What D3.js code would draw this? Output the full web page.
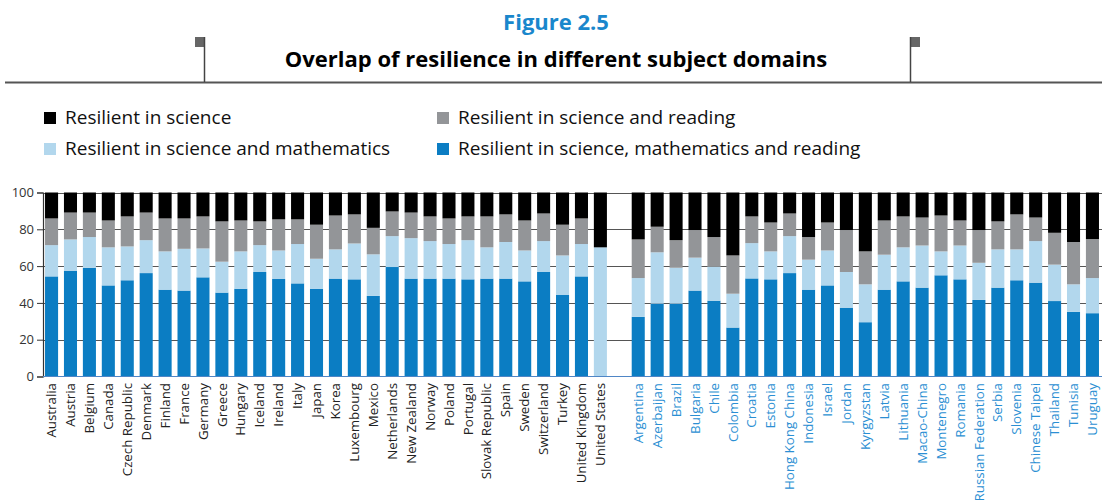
<!DOCTYPE html>
<html>
<head>
<meta charset="utf-8">
<title>Figure 2.5</title>
<script src="https://cdn.jsdelivr.net/npm/d3@7"></script>
<style>
body { margin: 0; background: #fff; }
text { font-family: "Open Sans", "Noto Sans", sans-serif; }
</style>
</head>
<body>
<svg width="1102" height="500"></svg>
<script>

// OECD countries, then partner economies
var oecd = ["Australia", "Austria", "Belgium", "Canada", "Czech Republic", "Denmark", "Finland", "France",
  "Germany", "Greece", "Hungary", "Iceland", "Ireland", "Italy", "Japan", "Korea", "Luxembourg", "Mexico",
  "Netherlands", "New Zealand", "Norway", "Poland", "Portugal", "Slovak Republic", "Spain", "Sweden",
  "Switzerland", "Turkey", "United Kingdom", "United States"];
var partners = ["Argentina", "Azerbaijan", "Brazil", "Bulgaria", "Chile", "Colombia", "Croatia", "Estonia",
  "Hong Kong China", "Indonesia", "Israel", "Jordan", "Kyrgyzstan", "Latvia", "Lithuania", "Macao-China",
  "Montenegro", "Romania", "Russian Federation", "Serbia", "Slovenia", "Chinese Taipei", "Thailand",
  "Tunisia", "Uruguay"];

// shares (%) of resilient students, oecd first then partners
var sciMathRead = [54.4, 57.5, 59.1, 49.5, 52.3, 56.2, 47.2, 46.7, 53.9, 45.6, 47.7, 56.8, 53.0, 50.6, 47.7, 53.2,
  52.8, 43.8, 59.5, 53.2, 53.2, 53.2, 52.8, 53.2, 53.2, 51.7, 56.8, 44.3, 54.4, 0,
  32.4, 39.6, 39.6, 46.7, 41.2, 26.6, 53.3, 52.8, 56.2, 47.2, 49.5, 37.4, 29.5, 47.2, 51.7, 48.3,
  55.0, 52.8, 41.6, 48.3, 52.3, 51.0, 41.0, 35.1, 34.4];
var sciMath = [17.0, 17.0, 16.7, 20.7, 18.4, 17.9, 20.8, 22.7, 15.7, 16.8, 20.3, 14.6, 15.5, 21.4, 16.3, 15.9,
  19.5, 22.6, 16.8, 22.0, 20.4, 18.8, 21.3, 17.0, 19.9, 16.8, 16.8, 21.5, 17.6, 70.2,
  21.1, 27.9, 19.5, 17.9, 18.5, 18.4, 19.2, 15.2, 20.1, 16.3, 19.0, 19.4, 20.6, 19.0, 18.5, 22.9,
  13.0, 18.4, 20.2, 20.8, 16.8, 22.6, 19.8, 15.0, 19.1];
var sciRead = [14.5, 14.6, 13.3, 14.6, 16.3, 15.0, 17.9, 16.5, 17.4, 21.9, 16.8, 12.9, 16.9, 13.4, 18.5, 18.4,
  15.8, 14.4, 13.4, 13.9, 13.4, 13.9, 12.9, 16.8, 15.0, 16.3, 15.0, 16.7, 13.9, 0,
  21.0, 13.9, 15.0, 15.0, 16.1, 20.8, 14.5, 15.7, 12.3, 12.3, 15.2, 22.8, 17.9, 18.6, 16.8, 15.2,
  19.5, 13.6, 17.8, 15.2, 19.0, 12.8, 17.3, 23.0, 21.2];
var sciOnly = [14.1, 10.9, 10.9, 15.2, 13.0, 10.9, 14.1, 14.1, 13.0, 15.7, 15.2, 15.7, 14.6, 14.6, 17.5, 12.5,
  11.9, 19.2, 10.3, 10.9, 13.0, 14.1, 13.0, 13.0, 11.9, 15.2, 11.4, 17.5, 14.1, 29.8,
  25.5, 18.6, 25.9, 20.4, 24.2, 34.2, 13.0, 16.3, 11.4, 24.2, 16.3, 20.4, 32.0, 15.2, 13.0, 13.6,
  12.5, 15.2, 20.4, 15.7, 11.9, 13.6, 21.9, 26.9, 25.3];

var yTicks = [0, 20, 40, 60, 80, 100];

var seriesKeys = ["sciMathRead", "sciMath", "sciRead", "sciOnly"];
var seriesLabels = ["Resilient in science, mathematics and reading", "Resilient in science and mathematics",
  "Resilient in science and reading", "Resilient in science"];
var colors = { sciMathRead: "#0b7dc3", sciMath: "#b2d7ed", sciRead: "#939598", sciOnly: "#000000" };

var countries = oecd.concat(partners);
var rows = countries.map(function(c, i) {
  return { country: c, sciMathRead: sciMathRead[i], sciMath: sciMath[i], sciRead: sciRead[i], sciOnly: sciOnly[i] };
});

var svg = d3.select("svg");

// title block
svg.append("text").attr("x", 556).attr("y", 30).attr("text-anchor", "middle")
  .attr("font-size", 22).attr("font-weight", "bold").attr("fill", "#1a87cc").text("Figure 2.5");
svg.append("text").attr("x", 556).attr("y", 67).attr("text-anchor", "middle")
  .attr("font-size", 22).attr("font-weight", "bold").attr("fill", "#000").text("Overlap of resilience in different subject domains");
svg.append("line").attr("x1", 5).attr("x2", 1102).attr("y1", 82.5).attr("y2", 82.5)
  .attr("stroke", "#555").attr("stroke-width", 2);
[[195, 204.5], [910, 910.5]].forEach(function(m) {
  svg.append("rect").attr("x", m[0]).attr("y", 37).attr("width", 10).attr("height", 10).attr("fill", "#666");
  svg.append("line").attr("x1", m[1]).attr("x2", m[1]).attr("y1", 37).attr("y2", 82)
    .attr("stroke", "#444").attr("stroke-width", 1.5);
});

// legend
var legendItems = [
  { key: "sciOnly", x: 44, y: 112 },
  { key: "sciRead", x: 437, y: 112 },
  { key: "sciMath", x: 44, y: 143 },
  { key: "sciMathRead", x: 437, y: 143 }
];
var lg = svg.append("g").selectAll("g").data(legendItems).enter().append("g")
  .attr("transform", function(d) { return "translate(" + d.x + "," + d.y + ")"; });
lg.append("rect").attr("width", 12).attr("height", 12).attr("fill", function(d) { return colors[d.key]; });
lg.append("text").attr("x", 21).attr("y", 12).attr("font-size", 19).attr("fill", "#111")
  .text(function(d) { return seriesLabels[seriesKeys.indexOf(d.key)]; });

// scales
var slots = oecd.concat([""], partners);
var x = d3.scaleBand().domain(slots).range([42, 1102]).paddingInner(0.31).paddingOuter(0.16);
var y = d3.scaleLinear().domain([0, 100]).range([376.5, 192.5]);

// gridlines
svg.append("g").selectAll("line").data(yTicks.slice(1)).enter().append("line")
  .attr("x1", 43).attr("x2", 1102)
  .attr("y1", function(d) { return Math.round(y(d)) + 0.5; })
  .attr("y2", function(d) { return Math.round(y(d)) + 0.5; })
  .attr("stroke", "#555").attr("stroke-width", 1);

// stacked bars
var stack = d3.stack().keys(seriesKeys)(rows);
svg.append("g").selectAll("g").data(stack).enter().append("g")
  .attr("fill", function(s) { return colors[s.key]; })
  .selectAll("rect").data(function(s) { return s; }).enter().append("rect")
  .attr("x", function(d) { return x(d.data.country); })
  .attr("width", x.bandwidth())
  .attr("y", function(d) { return y(d[1]); })
  .attr("height", function(d) { return y(d[0]) - y(d[1]); });

// y axis
var yAxis = svg.append("g").attr("transform", "translate(43,0)")
  .call(d3.axisLeft(y).tickValues(yTicks).tickSize(6).tickPadding(3));
yAxis.select(".domain").attr("stroke", "#333").attr("stroke-width", 1.2);
yAxis.selectAll(".tick line").attr("stroke", "#333");
yAxis.selectAll("text").attr("font-size", 13).attr("fill", "#333")
  .attr("font-family", "'Open Sans', sans-serif");

// x axis line
svg.append("line").attr("x1", 43).attr("x2", 1102).attr("y1", 376.5).attr("y2", 376.5)
  .attr("stroke", "#4f86c6").attr("stroke-width", 1);

// country labels
svg.append("g").selectAll("text").data(countries).enter().append("text")
  .attr("transform", function(d) { return "translate(" + (x(d) + x.bandwidth() / 2) + ",383) rotate(-90)"; })
  .attr("text-anchor", "end").attr("dy", "0.35em").attr("font-size", 13.3)
  .attr("fill", function(d) { return oecd.indexOf(d) >= 0 ? "#222" : "#2b8fd3"; })
  .text(function(d) { return d; });

</script>
</body>
</html>
